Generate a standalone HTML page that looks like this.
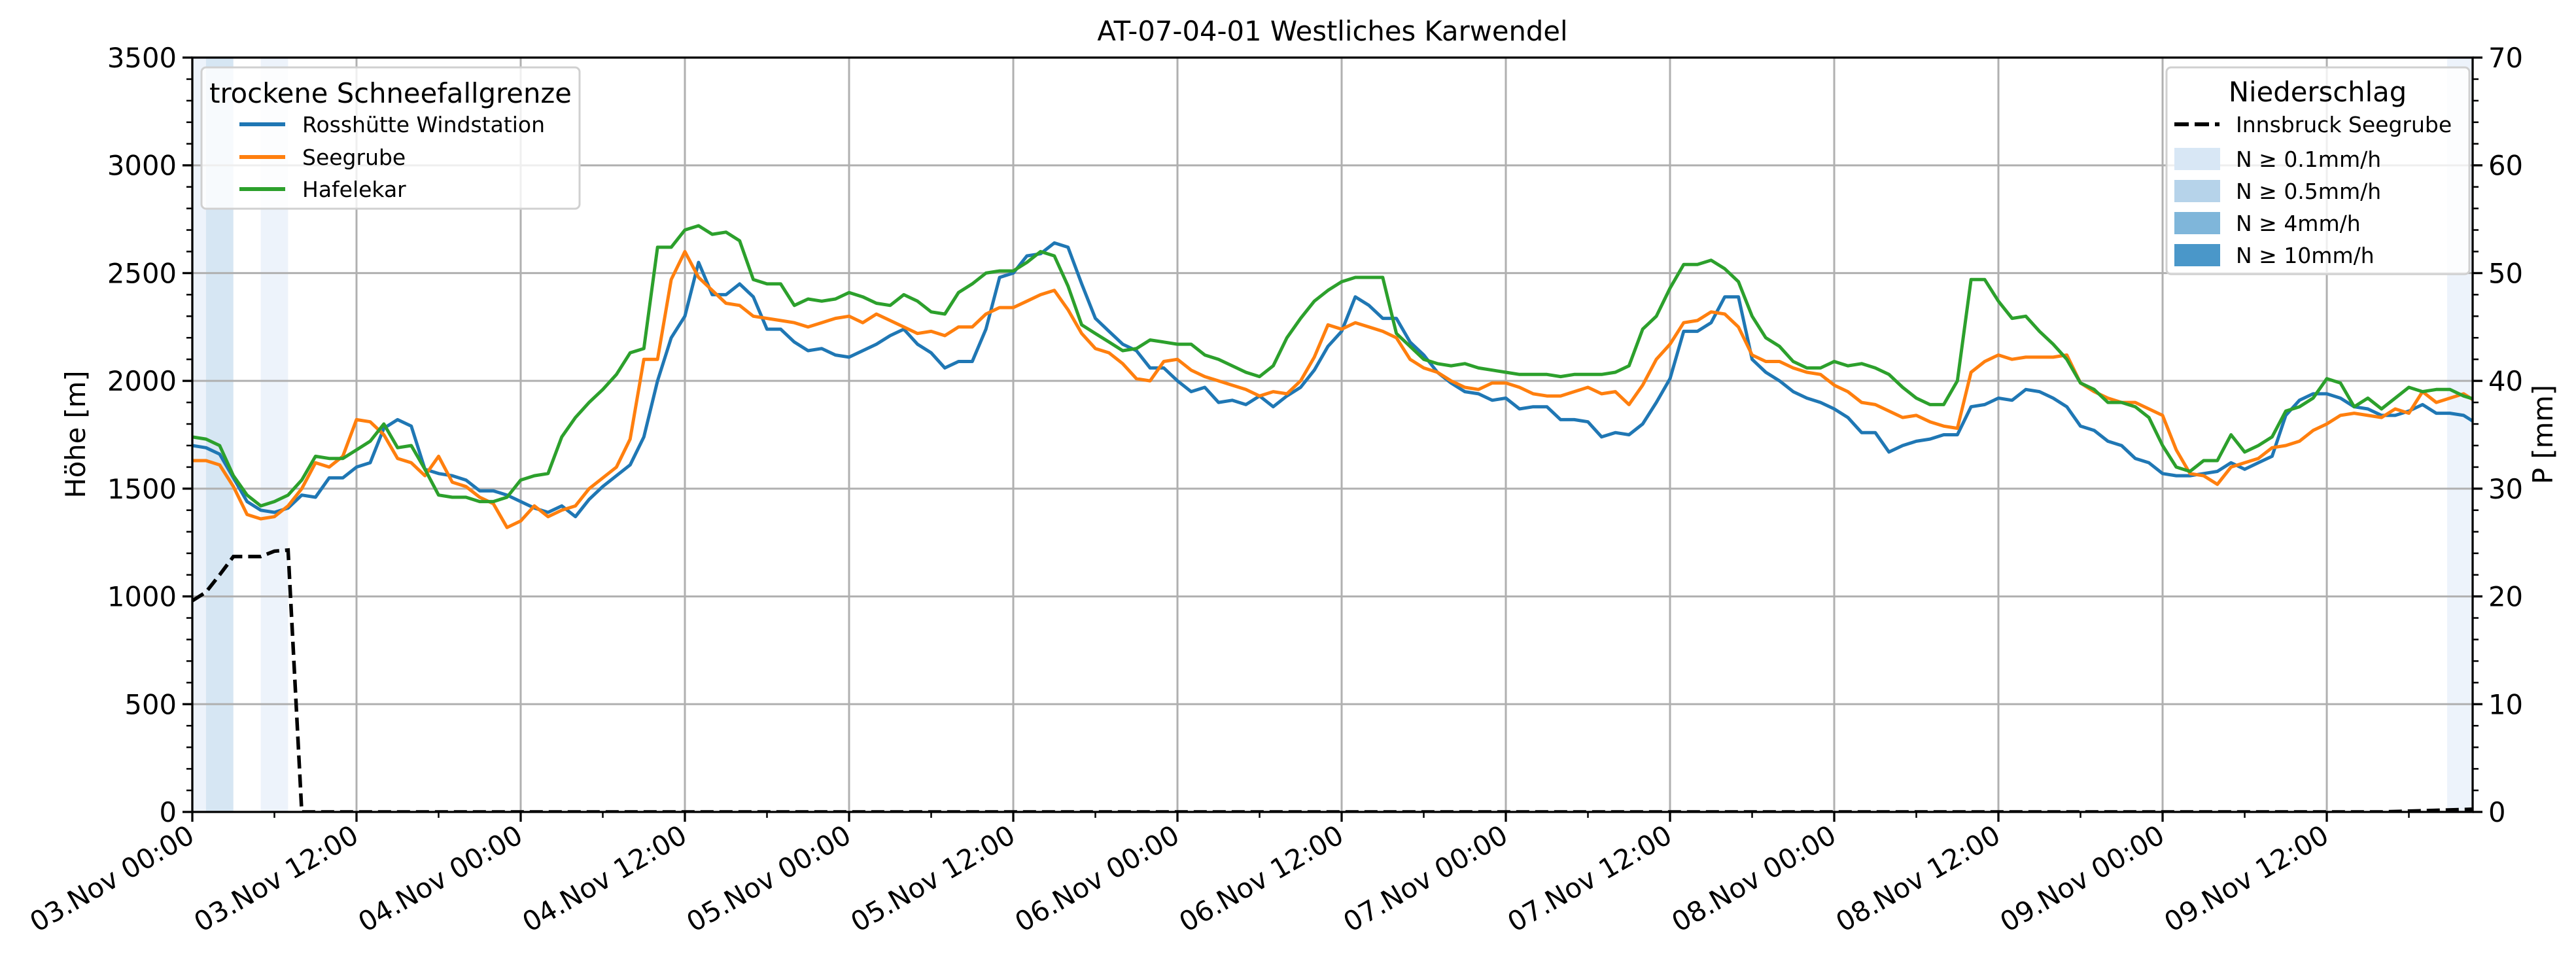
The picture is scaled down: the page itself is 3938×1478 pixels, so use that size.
<!DOCTYPE html>
<html><head><meta charset="utf-8"><style>
html,body{margin:0;padding:0;background:#fff;}
svg{display:block;font-family:"DejaVu Sans","Liberation Sans",sans-serif;}
</style></head><body>
<svg id="chart" width="3938" height="1478" viewBox="0 0 3938 1478" xmlns="http://www.w3.org/2000/svg">
<text x="2037" y="62" font-size="41.7" text-anchor="middle">AT-07-04-01 Westliches Karwendel</text>
<g id="bands"></g>
<g id="grid"></g>
<g id="lines" clip-path="url(#clip)"></g>
<defs><clipPath id="clip"><rect x="294" y="88" width="3486" height="1153"/></clipPath></defs>
<g id="axes"></g>
<g id="legend1">
  <rect x="308" y="103" width="578" height="216" rx="7" fill="#fff" fill-opacity="0.8" stroke="#d0d0d0" stroke-width="3"/>
  <text x="597" y="157" font-size="41.7" text-anchor="middle">trockene Schneefallgrenze</text>
  <line x1="366" y1="190" x2="436" y2="190" stroke="#1f77b4" stroke-width="6"/>
  <text x="462" y="202" font-size="33">Rosshütte Windstation</text>
  <line x1="366" y1="240" x2="436" y2="240" stroke="#ff7f0e" stroke-width="6"/>
  <text x="462" y="252" font-size="33">Seegrube</text>
  <line x1="366" y1="289" x2="436" y2="289" stroke="#2ca02c" stroke-width="6"/>
  <text x="462" y="301" font-size="33">Hafelekar</text>
</g>
<g id="legend2">
  <rect x="3312" y="103" width="463" height="316" rx="7" fill="#fff" fill-opacity="0.8" stroke="#d0d0d0" stroke-width="3"/>
  <text x="3543" y="155" font-size="41.7" text-anchor="middle">Niederschlag</text>
  <line x1="3324" y1="190" x2="3393" y2="190" stroke="#000" stroke-width="6" stroke-dasharray="22,9"/>
  <text x="3418" y="202" font-size="33">Innsbruck Seegrube</text>
  <rect x="3324" y="226" width="70" height="34" fill="#d8e7f5"/>
  <text x="3418" y="255" font-size="33">N ≥ 0.1mm/h</text>
  <rect x="3324" y="275" width="70" height="34" fill="#b6d3ea"/>
  <text x="3418" y="304" font-size="33">N ≥ 0.5mm/h</text>
  <rect x="3324" y="324" width="70" height="34" fill="#7fb6da"/>
  <text x="3418" y="353" font-size="33">N ≥ 4mm/h</text>
  <rect x="3324" y="373" width="70" height="34" fill="#4a97c9"/>
  <text x="3418" y="402" font-size="33">N ≥ 10mm/h</text>
</g>
<text transform="translate(130,664) rotate(-90)" font-size="41.7" text-anchor="middle">Höhe [m]</text>
<text transform="translate(3902,664) rotate(-90)" font-size="41.7" text-anchor="middle">P [mm]</text>
</svg>
<script>
const xTickLabels = ["03.Nov 00:00","03.Nov 12:00","04.Nov 00:00","04.Nov 12:00","05.Nov 00:00","05.Nov 12:00","06.Nov 00:00","06.Nov 12:00","07.Nov 00:00","07.Nov 12:00","08.Nov 00:00","08.Nov 12:00","09.Nov 00:00","09.Nov 12:00"];
const yTicks = [0,500,1000,1500,2000,2500,3000,3500];
const y2Ticks = [0,10,20,30,40,50,60,70];
const rosshuette = [1700,1690,1660,1550,1440,1400,1390,1410,1470,1460,1550,1550,1600,1620,1780,1820,1790,1590,1570,1560,1540,1490,1490,1470,1440,1410,1390,1420,1370,1450,1510,1560,1610,1740,2000,2200,2300,
2550,2400,2400,2450,2390,2240,2240,2180,2140,2150,2120,2110,2140,2170,2210,2240,2170,2130,2060,2090,2090,2240,2480,2500,2580,2590,2640,2620,2450,2290,2230,2170,2140,2060,2060,2000,1950,1970,1900,1910,1890,1930,1880,1930,1970,2050,2160,2230,2390,2350,2290,2290,2180,2120,2040,1990,1950,1940,1910,1920,1870,1880,1880,1820,1820,1810,1740,1760,1750,1800,1900,2010,2230,2230,2270,2390,2390,2100,2040,2000,1950,1920,1900,1870,1830,1760,1760,1670,1700,1720,1730,1750,1750,1880,1890,1920,1910,1960,1950,1920,1880,1790,1770,1720,1700,1640,1620,1570,1560,1560,1570,1580,1620,1590,1620,1650,1840,1910,1940,1940,1920,1880,1870,1840,1840,1860,1890,1850,1850,1840,1800];
const seegrube = [1630,1630,1610,1510,1380,1360,1370,1420,1500,1620,1600,1650,1820,1810,1750,1640,1620,1560,1650,1530,1510,1460,1430,1320,1350,1420,1370,1400,1420,1500,1550,1600,1730,2100,2100,2470,2600,2480,2420,2360,2350,2300,2290,2280,2270,2250,2270,2290,2300,2270,2310,2280,2250,2220,2230,2210,2250,2250,2310,2340,2340,2370,2400,2420,2330,2220,2150,2130,2080,2010,2000,2090,2100,2050,2020,2000,1980,1960,1930,1950,1940,2000,2110,2260,2240,2270,2250,2230,2200,2100,2060,2040,2000,1970,1960,1990,1990,1970,1940,1930,1930,1950,1970,1940,1950,1890,1980,2100,2170,2270,2280,2320,2310,2250,2120,2090,2090,2060,2040,2030,1980,1950,1900,1890,1860,1830,1840,1810,1790,1780,2040,2090,2120,2100,2110,2110,2110,2120,1990,1950,1920,1900,1900,1870,1840,1680,1570,1560,1520,1600,1620,1640,1690,1700,1720,1770,1800,1840,1850,1840,1830,1870,1850,1950,1900,1920,1940,1900,1880];
const hafelekar = [1740,1730,1700,1560,1470,1420,1440,1470,1540,1650,1640,1640,1680,1720,1800,1690,1700,1590,1470,1460,1460,1440,1440,1460,1540,1560,1570,1740,1830,1900,1960,2030,2130,2150,2620,2620,2700,2720,2680,2690,2650,2470,2450,2450,2350,2380,2370,2380,2410,2390,2360,2350,2400,2370,2320,2310,2410,2450,2500,2510,2510,2550,2600,2580,2440,2260,2220,2180,2140,2150,2190,2180,2170,2170,2120,2100,2070,2040,2020,2070,2200,2290,2370,2420,2460,2480,2480,2480,2220,2160,2100,2080,2070,2080,2060,2050,2040,2030,2030,2030,2020,2030,2030,2030,2040,2070,2240,2300,2430,2540,2540,2560,2520,2460,2300,2200,2160,2090,2060,2060,2090,2070,2080,2060,2030,1970,1920,1890,1890,2000,2470,2470,2370,2290,2300,2230,2170,2100,1990,1960,1900,1900,1880,1830,1700,1600,1580,1630,1630,1750,1670,1700,1740,1860,1880,1920,2010,1990,1880,1920,1870,1920,1970,1950,1960,1960,1930,1910];
const precipHours = [0,1,2,3,4,5,6,7,8,160,166.6];
const precipSum = [19.6,20.4,22.0,23.7,23.7,23.7,24.2,24.3,0,0,0.25];
const bandStart = [0,1,5,164.8];
const bandEnd = [1,3,7,166.6];
const bandColor = ["#edf3fb","#d6e6f3","#edf3fb","#edf3fb"];

const L=294,R=3780,T=88,B=1241,XMAX=166.66;
const NS="http://www.w3.org/2000/svg";
const xs=h=>L+(R-L)*h/XMAX;
const ys=v=>B-(B-T)*v/3500;
const ys2=v=>B-(B-T)*v/70;
function mk(tag,attrs,parent){const e=document.createElementNS(NS,tag);for(const k in attrs)e.setAttribute(k,attrs[k]);parent.appendChild(e);return e;}
const bands=document.getElementById('bands'),grid=document.getElementById('grid'),lines=document.getElementById('lines'),axes=document.getElementById('axes');
for(let i=0;i<bandStart.length;i++){
  const r=mk('rect',{x:xs(bandStart[i]),y:T,width:xs(bandEnd[i])-xs(bandStart[i]),height:B-T,fill:bandColor[i]},bands);
  
  
}
xTickLabels.forEach((lab,i)=>{
  const x=xs(i*12);
  mk('line',{x1:x,y1:T,x2:x,y2:B,stroke:'#b0b0b0','stroke-width':3},grid);
  mk('line',{x1:x,y1:B,x2:x,y2:B+15,stroke:'#000','stroke-width':3.3},axes);
  const t=mk('text',{x:x+6,y:B+44,'font-size':41.7,'text-anchor':'end',transform:`rotate(-30 ${x+6} ${B+44})`},axes);
  t.textContent=lab;
  
  
});
for(let h=6;h<XMAX;h+=12){const x=xs(h);mk('line',{x1:x,y1:B,x2:x,y2:B+9,stroke:'#000','stroke-width':2.5},axes);}
yTicks.forEach(v=>{
  const y=ys(v);
  mk('line',{x1:L,y1:y,x2:R,y2:y,stroke:'#b0b0b0','stroke-width':3},grid);
  mk('line',{x1:L-15,y1:y,x2:L,y2:y,stroke:'#000','stroke-width':3.3},axes);
  const t=mk('text',{x:L-24,y:y+15,'font-size':41.7,'text-anchor':'end'},axes);
  t.textContent=v;
  
  
});
for(let v=100;v<3500;v+=100){if(v%500){const y=ys(v);mk('line',{x1:L-9,y1:y,x2:L,y2:y,stroke:'#000','stroke-width':2.5},axes);}}
y2Ticks.forEach(v=>{
  const y=ys2(v);
  mk('line',{x1:R,y1:y,x2:R+15,y2:y,stroke:'#000','stroke-width':3.3},axes);
  const t=mk('text',{x:R+24,y:y+15,'font-size':41.7},axes);
  t.textContent=v;
  
  
});
for(let v=2;v<70;v+=2){if(v%10){const y=ys2(v);mk('line',{x1:R,y1:y,x2:R+9,y2:y,stroke:'#000','stroke-width':2.5},axes);}}
mk('rect',{x:L,y:T,width:R-L,height:B-T,fill:'none',stroke:'#000','stroke-width':3.3},axes);
function series(arr,color,name){
  const p=arr.map((v,i)=>`${xs(i).toFixed(1)},${ys(v).toFixed(1)}`).join(' ');
  const e=mk('polyline',{points:p,fill:'none',stroke:color,'stroke-width':5,'stroke-linejoin':'round'},lines);
  
  
}
series(rosshuette,'#1f77b4','line-rosshuette');
series(seegrube,'#ff7f0e','line-seegrube');
series(hafelekar,'#2ca02c','line-hafelekar');
const pp=precipHours.map((h,i)=>`${xs(h).toFixed(1)},${ys2(precipSum[i]).toFixed(1)}`).join(' ');
const pl=mk('polyline',{points:pp,fill:'none',stroke:'#000','stroke-width':5.5,'stroke-dasharray':'20,9'},lines);


</script>
</body></html>
